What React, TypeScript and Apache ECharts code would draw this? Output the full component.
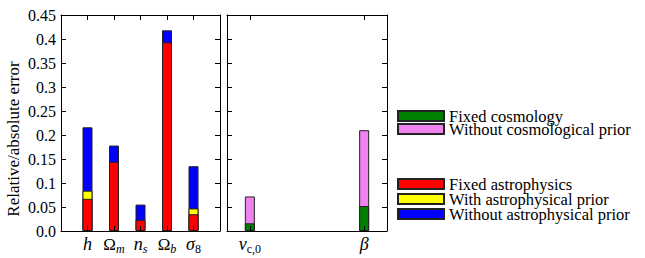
import React, { useEffect, useRef } from "react";
import * as echarts from "echarts";

const leftLabels = ["{i|h}", "{u|Ω}{si|m}", "{i|n}{si|s}", "{u|Ω}{si|b}", "{i|σ}{su|8}"];
const leftPos = [1, 2, 3, 4, 5];
const fixedAstrophysics = [0.067, 0.144, 0.023, 0.393, 0.035];
const withAstroPrior = [0.084, null, null, null, 0.047];
const withoutAstroPrior = [0.216, 0.178, 0.055, 0.418, 0.135];

const rightLabels = ["{i|v}{su|c,0}", "{i|β}"];
const rightPos = [0, 1];
const fixedCosmology = [0.016, 0.052];
const withoutCosmoPrior = [0.072, 0.21];

const yTickValues = [0, 0.05, 0.1, 0.15, 0.2, 0.25, 0.3, 0.35, 0.4, 0.45];
const yRange = { min: 0, max: 0.45, interval: 0.05 };
const yTitle = "Relative/absolute error";
const legendItems = [
  "Fixed cosmology",
  "Without cosmological prior",
  "Fixed astrophysics",
  "With astrophysical prior",
  "Without astrophysical prior",
];

const FONT = "Liberation Serif";
const rich = {
  i: { fontFamily: FONT, fontSize: 18, fontStyle: "italic", color: "#000", lineHeight: 18 },
  u: { fontFamily: FONT, fontSize: 17, color: "#000", lineHeight: 18 },
  si: { fontFamily: FONT, fontSize: 12, fontStyle: "italic", color: "#000", lineHeight: 18, padding: [9, 0, 0, 0] },
  su: { fontFamily: FONT, fontSize: 12, color: "#000", lineHeight: 18, padding: [9, 0, 0, 0] },
};

export default function App() {
  const ref = useRef<HTMLDivElement>(null);
  useEffect(() => {
    const chart = echarts.init(ref.current!, null, { renderer: "svg" });
    const pair = (pos: number[], vals: (number | null)[]) =>
      pos.map((p, k) => (vals[k] == null ? [p, null] : [p, vals[k]]));
    const barStyle = (color: string) => ({ color, borderColor: "#222", borderWidth: 1 });
    const tick = { show: true, inside: true, length: 5, lineStyle: { color: "#000", width: 1 } };
    const gridDefs = [
      { left: 61, top: 15, width: 159, height: 216 },
      { left: 227, top: 15, width: 160, height: 216 },
    ];
    const xRanges = [
      [0, 6],
      [-0.2, 1.2],
    ];
    const TICK_PX = 5;
    const mkX = (gi: number, pos: number[], labels: string[], top: boolean) => ({
      type: "value",
      gridIndex: gi,
      min: xRanges[gi][0],
      max: xRanges[gi][1],
      position: top ? "top" : "bottom",
      z: 5,
      axisLine: { show: true, onZero: false, lineStyle: { color: "#000", width: 1 } },
      splitLine: { show: false },
      axisTick: { ...tick, customValues: pos },
      axisLabel: top
        ? { show: false }
        : {
            show: true,
            customValues: pos,
            margin: 4,
            formatter: (v: number) => labels[pos.indexOf(Math.round(v))] ?? "",
            rich,
          },
    });
    const mkY = (gi: number, right: boolean, labels: boolean) => ({
      type: "value",
      gridIndex: gi,
      ...yRange,
      position: right ? "right" : "left",
      z: 5,
      axisLine: { show: true, onZero: false, lineStyle: { color: "#000", width: 1 } },
      splitLine: { show: false },
      axisTick: { ...tick, customValues: yTickValues },
      axisLabel: labels
        ? {
            show: true,
            margin: 5,
            fontFamily: FONT,
            fontSize: 16,
            color: "#000",
            formatter: (v: number) => (v === 0 ? "0.0" : String(+v.toFixed(2))),
          }
        : { show: false },
    });
    // inward y ticks on both spines of a panel, placed in data units through the axis scale
    const tickSeries = (gi: number, xi: number, yi: number) => {
      const [lo, hi] = xRanges[gi];
      const d = (TICK_PX * (hi - lo)) / gridDefs[gi].width;
      const lines: any[] = [];
      yTickValues.forEach((v) => {
        lines.push([{ coord: [lo, v] }, { coord: [lo + d, v] }]);
        lines.push([{ coord: [hi - d, v] }, { coord: [hi, v] }]);
      });
      return {
        type: "scatter",
        xAxisIndex: xi,
        yAxisIndex: yi,
        silent: true,
        clip: false,
        z: 6,
        symbolSize: 0,
        data: [[lo, 0]],
        markLine: {
          silent: true,
          symbol: ["none", "none"],
          animation: false,
          label: { show: false },
          lineStyle: { color: "#000", width: 1, type: "solid", opacity: 1 },
          emphasis: { disabled: true },
          data: lines,
        },
      };
    };
    const legendTops = [107.5, 120.5, 175.5, 190.5, 205.5];
    chart.setOption({
      animation: false,
      backgroundColor: "#fff",
      grid: gridDefs.map((g) => ({ ...g, show: false })),
      graphic: [
        {
          type: "text",
          x: 13,
          y: 139,
          rotation: Math.PI / 2,
          style: {
            text: yTitle,
            fontFamily: FONT,
            fontSize: 17,
            fill: "#000",
            align: "center",
            verticalAlign: "middle",
          },
        },
      ],
      xAxis: [
        mkX(0, leftPos, leftLabels, false),
        mkX(0, leftPos, leftLabels, true),
        mkX(1, rightPos, rightLabels, false),
        mkX(1, rightPos, rightLabels, true),
      ],
      yAxis: [mkY(0, false, true), mkY(0, true, false), mkY(1, false, false), mkY(1, true, false)],
      legend: legendItems.map((name, k) => ({
        orient: "vertical",
        left: 397,
        top: legendTops[k],
        padding: 0,
        icon: "rect",
        itemWidth: 46,
        itemHeight: 10,
        textStyle: { fontFamily: FONT, fontSize: 16.5, color: "#000", lineHeight: 13 },
        data: [name],
      })),
      series: [
        { name: "Without astrophysical prior", type: "bar", xAxisIndex: 0, yAxisIndex: 0, barWidth: 10, barGap: "-100%", itemStyle: barStyle("#0000ff"), data: pair(leftPos, withoutAstroPrior) },
        { name: "With astrophysical prior", type: "bar", xAxisIndex: 0, yAxisIndex: 0, barWidth: 10, barGap: "-100%", itemStyle: barStyle("#ffff00"), data: pair(leftPos, withAstroPrior) },
        { name: "Fixed astrophysics", type: "bar", xAxisIndex: 0, yAxisIndex: 0, barWidth: 10, barGap: "-100%", itemStyle: barStyle("#ff0000"), data: pair(leftPos, fixedAstrophysics) },
        { name: "Without cosmological prior", type: "bar", xAxisIndex: 2, yAxisIndex: 2, barWidth: 10, barGap: "-100%", itemStyle: barStyle("#ee82ee"), data: pair(rightPos, withoutCosmoPrior) },
        { name: "Fixed cosmology", type: "bar", xAxisIndex: 2, yAxisIndex: 2, barWidth: 10, barGap: "-100%", itemStyle: barStyle("#008000"), data: pair(rightPos, fixedCosmology) },
        tickSeries(0, 0, 0),
        tickSeries(1, 2, 2),
      ],
    });
    return () => chart.dispose();
  }, []);
  return <div ref={ref} style={{ width: 645, height: 258, position: "absolute", left: 0, top: 0 }} />;
}
